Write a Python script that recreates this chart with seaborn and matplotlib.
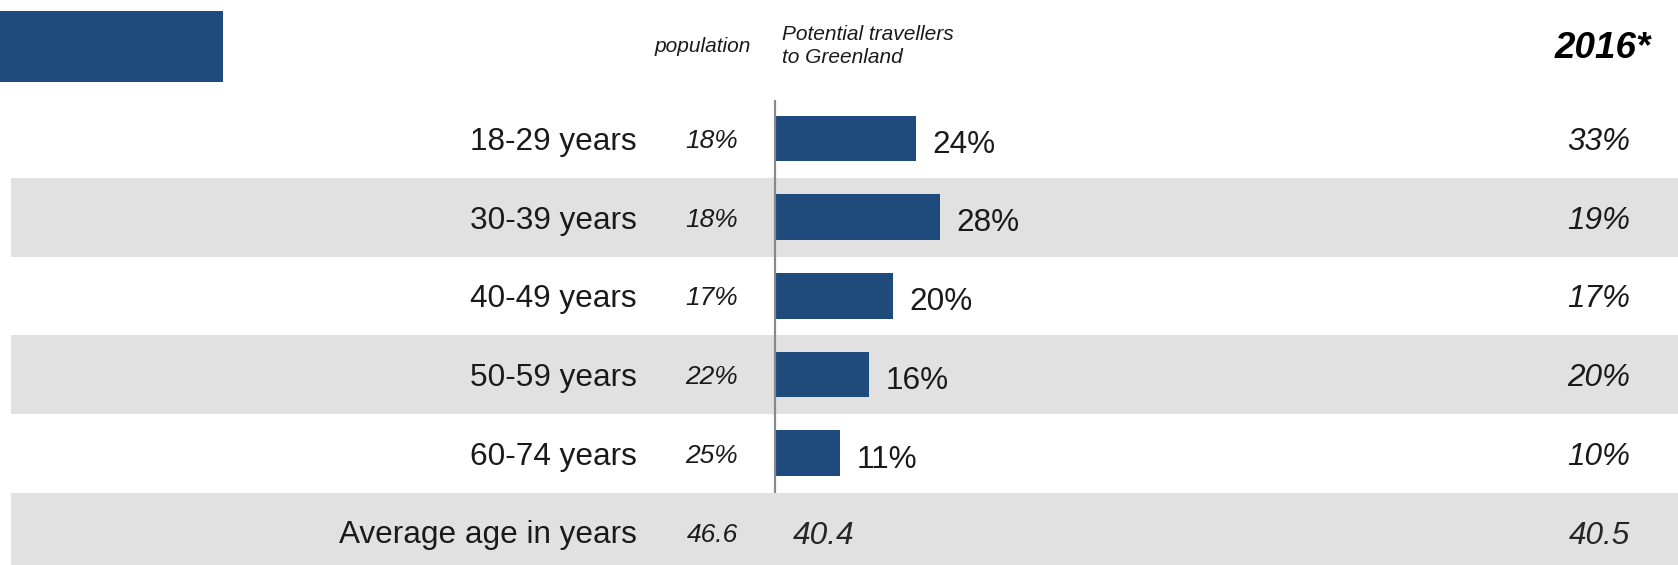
import matplotlib
matplotlib.use("Agg")
import matplotlib.pyplot as plt
from matplotlib.patches import Rectangle
from matplotlib.transforms import blended_transform_factory
import pandas as pd
import seaborn as sns

# ---- data -------------------------------------------------------------
age_groups = ["18-29 years", "30-39 years", "40-49 years", "50-59 years", "60-74 years"]
population_share = ["18%", "18%", "17%", "22%", "25%"]
traveller_share = [24, 28, 20, 16, 11]
share_2016 = ["33%", "19%", "17%", "20%", "10%"]

avg_label = "Average age in years"
avg_population = "46.6"
avg_travellers = "40.4"
avg_2016 = "40.5"

header_population = "population"
header_travellers = "Potential travellers\nto Greenland"
header_2016 = "2016*"

# ---- style ------------------------------------------------------------
BLUE = "#1F4A7C"
STRIPE = "#E0E1E0"
TEXT = "#1A1A1A"

sns.set_theme(style="white")
plt.rcParams["font.family"] = ["Liberation Sans", "DejaVu Sans"]

W, H = 1678, 565
fig = plt.figure(figsize=(W / 100, H / 100), dpi=100)
ax = fig.add_axes([0, 0, 1, 1])

# layout of the table in pixels
px_per_pct = 5.88
origin_px = 775
row_h = 78.7
row0_px = 138.5

df = pd.DataFrame({"group": age_groups, "share": traveller_share})
sns.barplot(data=df, x="share", y="group", orient="h", color=BLUE,
            saturation=1, width=0.58, linewidth=0, edgecolor=BLUE,
            ax=ax, zorder=2)

bar_texts = ax.bar_label(ax.containers[0], labels=[f"{v}%" for v in traveller_share],
                         padding=12, fontsize=22.7, color=TEXT)
for t in bar_texts:
    t.set_verticalalignment("center_baseline")
    t.xyann = (12, -2)

ax.set_xlim(-origin_px / px_per_pct, (W - origin_px) / px_per_pct)
ax.set_ylim((H - row0_px) / row_h, -row0_px / row_h)
ax.set_axis_off()

# alternating grey stripes (rows 2, 4 and the average row)
for i in (1, 3, 5):
    ax.axhspan(i - 0.5, i + 0.5, xmin=11 / W, xmax=1, color=STRIPE, zorder=0, lw=0)

# vertical baseline of the bars
ax.vlines(0, (100 - row0_px) / row_h, (493 - row0_px) / row_h,
          color="#8A8A8A", lw=1.6, zorder=3)

tr = blended_transform_factory(ax.transAxes, ax.transData)

def fx(px):
    return px / W

VA = "center_baseline"
for i, grp in enumerate(age_groups):
    ax.text(fx(637), i, grp, transform=tr, ha="right", va=VA,
            fontsize=22.7, color=TEXT)
    ax.text(fx(738), i, population_share[i], transform=tr, ha="right",
            va=VA, fontsize=19, style="italic", color=TEXT)
    ax.text(fx(1630), i, share_2016[i], transform=tr, ha="right",
            va=VA, fontsize=22.7, style="italic", color=TEXT)

avg_row = len(age_groups)
ax.text(fx(637), avg_row, avg_label, transform=tr, ha="right", va=VA,
        fontsize=22.7, color=TEXT)
ax.text(fx(738), avg_row, avg_population, transform=tr, ha="right",
        va=VA, fontsize=19, style="italic", color=TEXT)
ax.text(fx(793), avg_row, avg_travellers, transform=tr, ha="left",
        va=VA, fontsize=22.8, style="italic", color="#262626")
ax.text(fx(1630), avg_row, avg_2016, transform=tr, ha="right",
        va=VA, fontsize=22.7, style="italic", color="#262626")

# header
ax.add_patch(Rectangle((0, 1 - 82 / H), 223 / W, 71 / H, transform=ax.transAxes,
                       color=BLUE, lw=0, clip_on=False))
ax.text(fx(751), 1 - 46 / H, header_population, transform=ax.transAxes,
        ha="right", va="center", fontsize=15, style="italic", color=TEXT)
ax.text(fx(782), 1 - 46 / H, header_travellers, transform=ax.transAxes,
        ha="left", va="center", fontsize=15, style="italic", color=TEXT,
        linespacing=1.3)
ax.text(fx(1651), 1 - 48 / H, header_2016, transform=ax.transAxes,
        ha="right", va="center", fontsize=26.5, style="italic",
        fontweight="bold", color="#000000")

fig.savefig("out.png", dpi=100)
